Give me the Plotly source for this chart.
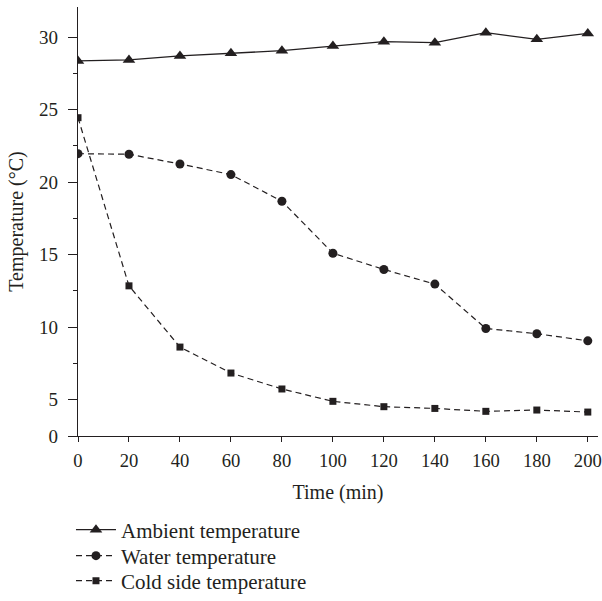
import plotly.graph_objects as go

time_min = [0, 20, 40, 60, 80, 100, 120, 140, 160, 180, 200]
ambient = [28.35, 28.42, 28.7, 28.88, 29.06, 29.38, 29.68, 29.61, 30.3, 29.84, 30.25]
water = [21.96, 21.92, 21.25, 20.52, 18.68, 15.1, 13.98, 12.97, 9.91, 9.55, 9.06]
cold_side = [24.44, 12.85, 8.63, 6.84, 5.74, 4.89, 4.52, 4.4, 4.2, 4.29, 4.15]

y_tickvals = [2.5, 5, 10, 15, 20, 25, 30]
y_ticktext = ["0", "5", "10", "15", "20", "25", "30"]
y_minor = [7.5, 12.5, 17.5, 22.5, 27.5]
x_ticks = [0, 20, 40, 60, 80, 100, 120, 140, 160, 180, 200]

ink = "#231f20"
font = "Liberation Serif"

fig = go.Figure()
fig.add_trace(go.Scatter(
    x=time_min, y=ambient, name="Ambient temperature", mode="lines+markers",
    line=dict(color=ink, width=1.3), legend="legend",
    marker=dict(symbol="triangle-up", size=11, color=ink)))
fig.add_trace(go.Scatter(
    x=time_min, y=water, name="Water temperature", mode="lines+markers",
    line=dict(color=ink, width=1.2, dash="6px,4px"), legend="legend2",
    marker=dict(symbol="circle", size=9, color=ink)))
fig.add_trace(go.Scatter(
    x=time_min, y=cold_side, name="Cold side temperature", mode="lines+markers",
    line=dict(color=ink, width=1.2, dash="6px,4px"), legend="legend3",
    marker=dict(symbol="square", size=7, color=ink)))

leg_common = dict(x=-0.0135, xanchor="left", yanchor="middle",
                  font=dict(family=font, size=21, color=ink),
                  itemwidth=40, bgcolor="rgba(0,0,0,0)")

fig.update_layout(
    width=602, height=601,
    margin=dict(l=78, r=4, t=7, b=165, autoexpand=False),
    paper_bgcolor="white", plot_bgcolor="white",
    font=dict(family=font, size=19, color=ink),
    showlegend=True,
    legend=dict(y=-0.2191, **leg_common),
    legend2=dict(y=-0.2797, **leg_common),
    legend3=dict(y=-0.338, **leg_common),
    xaxis=dict(range=[0, 204], tickvals=x_ticks, ticks="outside", ticklen=5,
               tickwidth=1.2, tickcolor=ink, showline=True, linecolor=ink,
               linewidth=1.2, showgrid=False, zeroline=False, automargin=False,
               ticklabeloverflow="allow", ticklabelstandoff=3,
               title=dict(text="Time (min)", standoff=14,
                          font=dict(family=font, size=20)),
               tickfont=dict(family=font, size=18.6)),
    yaxis=dict(range=[2.5, 32.07], tickvals=y_tickvals, ticktext=y_ticktext,
               ticks="outside", ticklen=9, tickwidth=1.2, tickcolor=ink,
               showline=True, linecolor=ink, linewidth=1.2, showgrid=False,
               zeroline=False, automargin=False, ticklabelstandoff=6,
               minor=dict(tickvals=y_minor, ticks="outside", ticklen=4,
                          tickwidth=1.2, tickcolor=ink, showgrid=False),
               title=dict(text="Temperature (°C)", standoff=10,
                          font=dict(family=font, size=20)),
               tickfont=dict(family=font, size=19)),
)

fig.write_html(
    "out.html",
    config={"displayModeBar": False},
    post_script="document.body.style.margin='0';document.body.style.overflow='hidden';",
)
